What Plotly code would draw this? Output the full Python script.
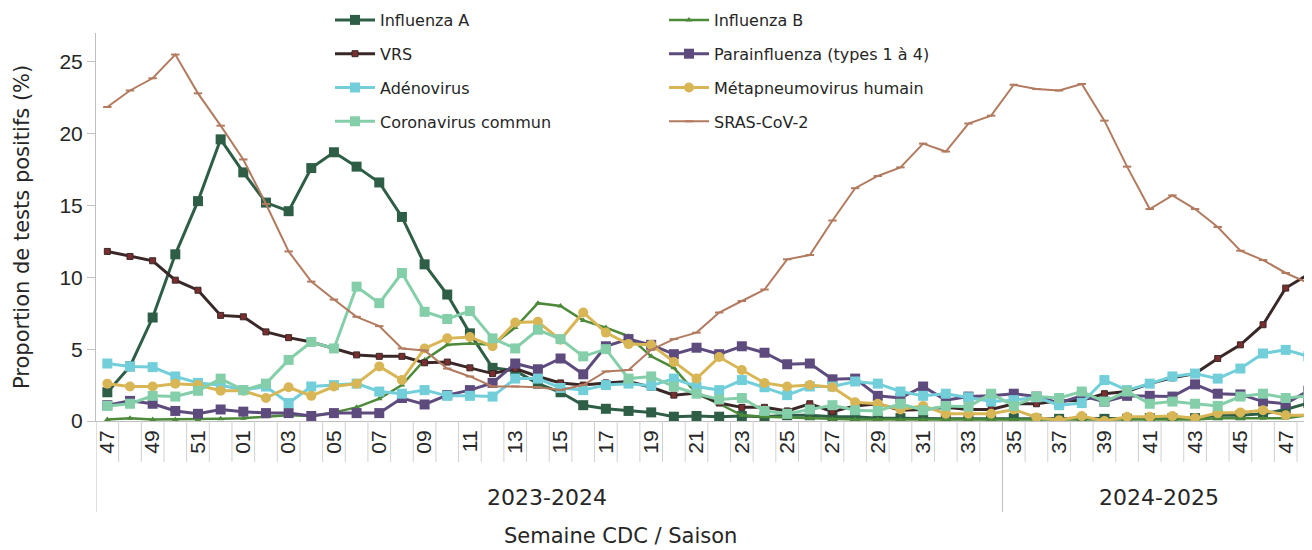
import plotly.graph_objects as go

# ---------------- data ----------------
weeks = ["47", "48", "49", "50", "51", "52",
         "01", "02", "03", "04", "05", "06", "07", "08", "09", "10",
         "11", "12", "13", "14", "15", "16", "17", "18", "19", "20",
         "21", "22", "23", "24", "25", "26", "27", "28", "29", "30",
         "31", "32", "33", "34",
         "35", "36", "37", "38", "39", "40", "41", "42", "43", "44",
         "45", "46", "47", "48"]
season_names = ["2023-2024", "2024-2025"]
season_lengths = [40, 14]

influenza_a = [2.0, 3.8, 7.2, 11.6, 15.3, 19.6, 17.3, 15.2, 14.6, 17.6,
               18.7, 17.7, 16.6, 14.2, 10.9, 8.8, 6.1, 3.7, 3.5, 2.6,
               2.0, 1.1, 0.85, 0.7, 0.6, 0.3, 0.35, 0.3, 0.35, 0.3,
               0.4, 0.4, 0.3, 0.3, 0.2, 0.2, 0.15, 0.15, 0.15, 0.15,
               0.2, 0.15, 0.15, 0.15, 0.15, 0.15, 0.2, 0.2, 0.2, 0.4,
               0.4, 0.5, 0.8, 1.25]
influenza_b = [0.1, 0.2, 0.1, 0.1, 0.1, 0.15, 0.2, 0.3, 0.4, 0.35,
               0.6, 0.95, 1.55, 2.5, 4.25, 5.3, 5.4, 5.3, 6.5, 8.2,
               8.0, 7.0, 6.5, 5.9, 4.5, 3.7, 1.9, 1.2, 0.4, 0.3,
               0.25, 0.2, 0.1, 0.1, 0.1, 0.1, 0.1, 0.05, 0.05, 0.05,
               0.05, 0.05, 0.05, 0.05, 0.05, 0.05, 0.05, 0.1, 0.1, 0.2,
               0.2, 0.2, 0.2, 0.4]
vrs = [11.8, 11.45, 11.15, 9.8, 9.1, 7.35, 7.25, 6.2, 5.8, 5.5,
       5.05, 4.6, 4.5, 4.5, 4.05, 4.1, 3.7, 3.3, 3.65, 3.1,
       2.65, 2.5, 2.65, 2.75, 2.35, 1.8, 1.95, 1.25, 0.95, 0.95,
       0.7, 1.2, 0.65, 1.05, 1.2, 0.75, 0.8, 0.95, 0.8, 0.8,
       1.2, 1.2, 1.4, 1.45, 1.9, 2.05, 2.6, 3.0, 3.3, 4.35,
       5.3, 6.7, 9.25, 10.2]
parainfluenza = [1.1, 1.4, 1.2, 0.7, 0.5, 0.8, 0.65, 0.55, 0.55, 0.35,
                 0.55, 0.55, 0.55, 1.6, 1.15, 1.8, 2.15, 2.65, 4.0, 3.6,
                 4.35, 3.25, 5.2, 5.7, 5.3, 4.65, 5.1, 4.65, 5.2, 4.75,
                 3.95, 4.0, 2.9, 2.95, 1.75, 1.6, 2.4, 1.45, 1.7, 1.75,
                 1.9, 1.7, 1.25, 1.75, 1.35, 1.75, 1.75, 1.7, 2.55, 1.9,
                 1.85, 1.35, 1.2, 2.1]
adenovirus = [4.0, 3.8, 3.75, 3.1, 2.65, 2.5, 2.15, 2.4, 1.25, 2.4,
              2.5, 2.6, 2.05, 1.9, 2.15, 1.75, 1.75, 1.7, 2.95, 2.95,
              2.3, 2.15, 2.5, 2.6, 2.45, 2.95, 2.4, 2.15, 2.85, 2.35,
              1.8, 2.4, 2.4, 2.75, 2.6, 2.05, 1.75, 1.9, 1.65, 1.35,
              1.45, 1.65, 1.1, 1.25, 2.85, 2.15, 2.6, 3.1, 3.3, 2.95,
              3.65, 4.7, 4.95, 4.5]
metapneumovirus = [2.6, 2.4, 2.4, 2.6, 2.5, 2.1, 2.1, 1.6, 2.35, 1.75,
                   2.4, 2.6, 3.8, 2.85, 5.05, 5.75, 5.85, 5.2, 6.85, 6.9,
                   5.65, 7.55, 6.15, 5.35, 5.3, 4.1, 2.95, 4.45, 3.55, 2.65,
                   2.4, 2.5, 2.35, 1.3, 1.2, 0.8, 1.05, 0.5, 0.5, 0.5,
                   0.8, 0.25, 0.05, 0.35, 0.0, 0.3, 0.3, 0.35, 0.2, 0.55,
                   0.6, 0.75, 0.4, 0.4]
coronavirus = [1.05, 1.2, 1.75, 1.7, 2.1, 2.95, 2.15, 2.6, 4.25, 5.5,
               5.05, 9.35, 8.2, 10.3, 7.6, 7.1, 7.65, 5.75, 5.05, 6.35,
               5.7, 4.5, 5.0, 2.95, 3.1, 2.4, 1.9, 1.5, 1.6, 0.7,
               0.5, 0.8, 1.1, 0.75, 0.7, 1.2, 0.75, 1.05, 1.0, 1.9,
               1.05, 1.7, 1.6, 2.05, 1.35, 2.05, 1.2, 1.35, 1.2, 1.05,
               1.7, 1.9, 1.6, 1.75]
sras_cov2 = [21.85, 23.0, 23.85, 25.5, 22.8, 20.55, 18.2, 15.1, 11.8, 9.7,
             8.45, 7.25, 6.6, 5.05, 4.9, 3.65, 3.1, 2.4, 2.4, 2.35,
             2.15, 2.5, 3.45, 3.55, 4.95, 5.7, 6.15, 7.55, 8.35, 9.15,
             11.25, 11.55, 13.95, 16.2, 17.05, 17.65, 19.3, 18.75, 20.7, 21.25,
             23.4, 23.1, 23.0, 23.45, 20.9, 17.7, 14.75, 15.7, 14.75, 13.5,
             11.85, 11.2, 10.3, 9.6]

series = [
    ("Influenza A", influenza_a, "legend"),
    ("Influenza B", influenza_b, "legend2"),
    ("VRS", vrs, "legend"),
    ("Parainfluenza (types 1 à 4)", parainfluenza, "legend2"),
    ("Adénovirus", adenovirus, "legend"),
    ("Métapneumovirus humain", metapneumovirus, "legend2"),
    ("Coronavirus commun", coronavirus, "legend"),
    ("SRAS-CoV-2", sras_cov2, "legend2"),
]

styles = {
    "Influenza A": dict(line=dict(color="#2E5E46", width=3),
                        marker=dict(symbol="square", size=10, color="#2E5E46")),
    "Influenza B": dict(line=dict(color="#4C8A3A", width=2.5),
                        marker=dict(symbol="triangle-up", size=6, color="#4C8A3A")),
    "VRS": dict(line=dict(color="#3A2828", width=3),
                marker=dict(symbol="square", size=6, color="#7A2E2E",
                            line=dict(color="#3A2828", width=1))),
    "Parainfluenza (types 1 à 4)": dict(line=dict(color="#5E4B7E", width=3),
                                        marker=dict(symbol="square", size=10, color="#5E4B7E")),
    "Adénovirus": dict(line=dict(color="#72CFDA", width=3),
                       marker=dict(symbol="square", size=10, color="#72CFDA")),
    "Métapneumovirus humain": dict(line=dict(color="#D9B655", width=3),
                                   marker=dict(symbol="circle", size=10, color="#D9B655")),
    "Coronavirus commun": dict(line=dict(color="#84CFA9", width=3),
                               marker=dict(symbol="square", size=10, color="#84CFA9")),
    "SRAS-CoV-2": dict(line=dict(color="#B27B60", width=2),
                       marker=dict(symbol="line-ew", size=6,
                                   line=dict(color="#B27B60", width=2))),
}

x = list(range(len(weeks)))

fig = go.Figure()
for name, vals, leg in series:
    st = styles[name]
    fig.add_trace(go.Scatter(
        x=x, y=vals, name=name, mode="lines+markers",
        line=st["line"], marker=st["marker"],
        legend=leg, legendgroup=name,
    ))

# ---------------- layout geometry ----------------
# the page body adds an 8 px margin, so the figure is 8 px smaller
OFF = 8
W, H = 1312 - OFF, 550 - OFF
plot_left, plot_top, plot_bottom, plot_right = 96 - OFF, 33 - OFF, 421 - OFF, 1312 - OFF
ml, mt = plot_left, plot_top
mr, mb = W - plot_right, H - plot_bottom
plot_h = plot_bottom - plot_top
plot_w = plot_right - plot_left
x_lo, x_hi = -0.5, 53.16


def py(px_below):
    """paper y for a pixel offset below the x axis"""
    return -px_below / plot_h


def px_page(xp):
    """paper x for a page pixel x"""
    return (xp - OFF - plot_left) / plot_w


shapes = []
n = len(weeks)
# category boundary marks
for i in range(1, n):
    shapes.append(dict(type="line", xref="x", yref="paper",
                       x0=i - 0.5, x1=i - 0.5, y0=0, y1=py(41),
                       line=dict(color="#d0d0d0", width=1)))
# season separators
bounds = [-0.5]
for L in season_lengths:
    bounds.append(bounds[-1] + L)
for b in bounds[:-1]:
    shapes.append(dict(type="line", xref="x", yref="paper",
                       x0=b, x1=b, y0=0, y1=py(91),
                       line=dict(color="#bfbfbf", width=1)))

annotations = []
for k, name in enumerate(season_names):
    a, b = bounds[k], min(bounds[k + 1], n - 0.5)
    annotations.append(dict(x=(a + b) / 2 - 0.1, y=py(76), xref="x", yref="paper",
                            text=name, showarrow=False, yanchor="middle",
                            font=dict(family="DejaVu Sans", size=22, color="#262626")))
annotations.append(dict(x=px_page(620), y=py(115), xref="paper", yref="paper",
                        text="Semaine CDC / Saison", showarrow=False, yanchor="middle",
                        font=dict(family="DejaVu Sans", size=21, color="#262626")))
annotations.append(dict(x=px_page(22), y=0.5, xref="paper", yref="paper",
                        text="Proportion de tests positifs (%)", showarrow=False,
                        textangle=-90, xanchor="center", yanchor="middle",
                        font=dict(family="DejaVu Sans", size=21, color="#262626")))

leg_common = dict(yanchor="top", xanchor="left", bgcolor="rgba(0,0,0,0)",
                  font=dict(family="DejaVu Sans", size=16, color="#262626"),
                  traceorder="grouped", tracegroupgap=10, itemwidth=40)
leg_y = 1 + (plot_top + 5) / plot_h

even = list(range(0, n, 2))
fig.update_layout(
    width=W, height=H,
    margin=dict(l=ml, r=mr, t=mt, b=mb, pad=0, autoexpand=False),
    plot_bgcolor="white", paper_bgcolor="white",
    showlegend=True,
    legend=dict(x=px_page(330), y=leg_y, **leg_common),
    legend2=dict(x=px_page(664), y=leg_y, **leg_common),
    xaxis=dict(range=[x_lo, x_hi], tickmode="array", tickvals=even,
               ticktext=[weeks[i] for i in even], tickangle=-90, ticks="",
               showline=True, linecolor="#bfbfbf", linewidth=1,
               showgrid=False, zeroline=False,
               tickfont=dict(family="Liberation Sans", size=21, color="#262626")),
    yaxis=dict(range=[0, 27.0], tickmode="array", tickvals=[0, 5, 10, 15, 20, 25],
               ticks="outside", ticklen=8, tickcolor="#bfbfbf",
               showline=True, linecolor="#bfbfbf", linewidth=1,
               showgrid=False, zeroline=False,
               tickfont=dict(family="Liberation Sans", size=21, color="#262626")),
    shapes=shapes,
    annotations=annotations,
)

fig.write_html("out.html")
